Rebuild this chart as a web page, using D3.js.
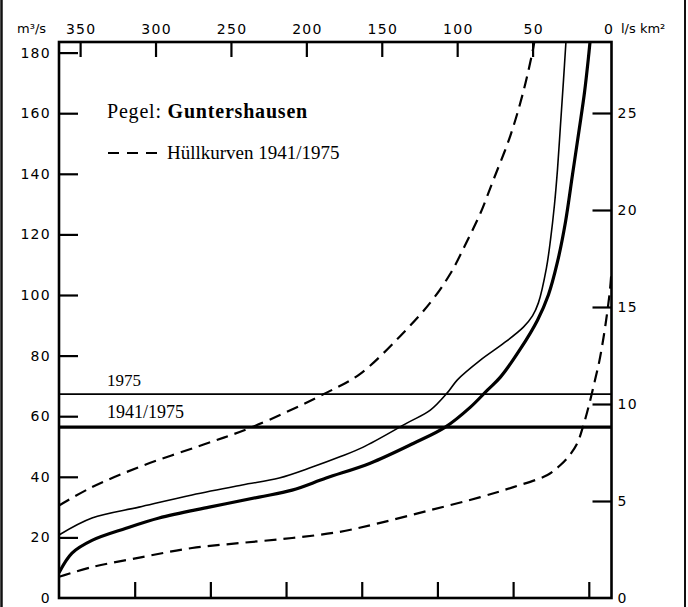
<!DOCTYPE html>
<html>
<head>
<meta charset="utf-8">
<script src="https://cdn.jsdelivr.net/npm/d3@7"></script>
<style>
  html, body { margin: 0; padding: 0; background: #fff; }
  svg { display: block; }
</style>
</head>
<body>
<svg id="chart" width="688" height="607"></svg>
<script>
// ---------------- DATA ----------------
// x: duration in days (0..365), y: discharge in m³/s
const maxEnvDays = [0, 21.8, 54.9, 94.6, 127.6, 176.5, 199, 225.5, 245.3, 258.5, 269.8, 278.4, 287, 298.2, 306.8, 312.7, 314];
const maxEnvQ    = [30.5, 36.6, 43.6, 50.5, 56.4, 67.7, 74, 86.5, 97.5, 107, 118, 127, 138, 152.6, 167.2, 180, 183.5];

const curve1975Days = [0, 21.8, 52.9, 87.9, 121, 145.5, 167.3, 185.1, 201, 230.1, 245.3, 256.5, 263.2, 278.4, 293.6, 306.8, 312.8, 316.7, 322, 324.7, 327.3, 329.3, 331.3, 333.3, 334.9];
const curve1975Q    = [20.8, 26.4, 30, 34, 37.3, 39.6, 43.2, 46.5, 49.8, 57.8, 62, 67.7, 72, 78.5, 84, 89.4, 93.1, 97.4, 108.9, 118.2, 129.7, 141.3, 156.1, 171, 183.5];

const curveMeanDays = [0, 8.6, 21.8, 44.3, 66.1, 99.2, 132.2, 154, 176.5, 205.6, 234, 255.2, 271.8, 283, 291.6, 304.8, 316.1, 323.3, 329.3, 334.6, 339.2, 343.8, 347.2, 349.8, 350.8];
const curveMeanQ    = [8.3, 14.8, 19, 23, 26.4, 30, 33.3, 35.6, 39.6, 44.5, 51, 56.4, 63, 68.6, 72.9, 82.2, 91.7, 100, 110.9, 124.1, 139.6, 155.1, 167, 178.5, 183.5];

const minEnvDays = [0, 21.8, 54.9, 87.9, 121, 154, 185.1, 212.2, 245.3, 278.4, 300.2, 322.7, 331.3, 337.9, 342.5, 346.5, 350.5, 353.8, 357.1, 361, 364, 365];
const minEnvQ    = [7, 10.2, 13.5, 16.5, 18.2, 19.8, 21.8, 24.8, 29, 33.3, 36.6, 40.6, 43.9, 47.5, 51.2, 57.1, 64.4, 71.3, 78.5, 90.1, 101.7, 108];

// horizontal reference lines (m³/s)
const refLabels = ["1975", "1941/1975"];
const refValues = [67.3, 56.4];

// axis ticks
const leftTicks   = [0, 20, 40, 60, 80, 100, 120, 140, 160, 180];
const rightTicks  = [0, 5, 10, 15, 20, 25];
const topTicks    = [350, 300, 250, 200, 150, 100, 50, 0];
const bottomTicks = [50, 100, 150, 200, 250, 300, 350];

const titleRegular = "Pegel: ";
const titleBold = "Guntershausen";
const legendText = "Hüllkurven 1941/1975";
const leftUnit = "m³/s";
const rightUnit = "l/s km²";

// ---------------- DRAW ----------------
const svg = d3.select("#chart");
const L = 59, R = 611.5, T = 42, B = 598;

const x = d3.scaleLinear().domain([0, 365]).range([L, R]);
const xTop = d3.scaleLinear().domain([364, 0]).range([L, 608]);
const y = d3.scaleLinear().domain([0, 183.5]).range([B, T]);
const yRight = d3.scaleLinear().domain([0, 25]).range([B, 113]);

const sansFont = "'DejaVu Sans', 'Liberation Sans', Arial, sans-serif";
const serifFont = "'Liberation Serif', 'Times New Roman', serif";

// scan borders
svg.append("line").attr("x1", 1.5).attr("x2", 1.5).attr("y1", 0).attr("y2", 607)
  .attr("stroke", "#111").attr("stroke-width", 2.5);
svg.append("line").attr("x1", 685).attr("x2", 685).attr("y1", 0).attr("y2", 607)
  .attr("stroke", "#111").attr("stroke-width", 2);

// axes (ticks inside)
const axisStyle = g => {
  g.select(".domain").remove();
  g.selectAll(".tick line").attr("stroke", "#000").attr("stroke-width", 2.2);
  g.selectAll(".tick text").attr("fill", "#000").style("font-family", sansFont)
    .style("font-size", "14px").style("letter-spacing", "1.3px");
};

svg.append("g").attr("transform", `translate(${L},0)`)
  .call(d3.axisRight(y).tickValues(leftTicks).tickSize(19).tickFormat(() => ""))
  .call(axisStyle)
  .selectAll(".tick").filter(d => d === 0).select("line").remove();
svg.append("g").attr("transform", `translate(${L - 8},0)`)
  .call(d3.axisLeft(y).tickValues(leftTicks).tickSize(0).tickPadding(0).tickFormat(d3.format("d")))
  .call(axisStyle);

svg.append("g").attr("transform", `translate(${R},0)`)
  .call(d3.axisLeft(yRight).tickValues(rightTicks).tickSize(19).tickFormat(() => ""))
  .call(axisStyle)
  .selectAll(".tick").filter(d => d === 0).select("line").remove();
svg.append("g").attr("transform", `translate(${R + 6},0)`)
  .call(d3.axisRight(yRight).tickValues(rightTicks).tickSize(0).tickPadding(0).tickFormat(d3.format("d")))
  .call(axisStyle);

svg.append("g").attr("transform", `translate(0,${T})`)
  .call(d3.axisBottom(xTop).tickValues(topTicks.filter(d => d !== 0)).tickSize(15).tickFormat(() => ""))
  .call(axisStyle);
const topLab = svg.append("g").attr("transform", `translate(0,${T - 8})`)
  .call(d3.axisTop(xTop).tickValues(topTicks).tickSize(0).tickPadding(0).tickFormat(d3.format("d")))
  .call(axisStyle);
topLab.selectAll(".tick text").attr("dx", "0.6px");

svg.append("g").attr("transform", `translate(0,${B})`)
  .call(d3.axisTop(x).tickValues(bottomTicks).tickSize(16).tickFormat(() => ""))
  .call(axisStyle);

// unit labels
svg.append("text").attr("x", 17).attr("y", 33).text(leftUnit)
  .style("font-family", sansFont).style("font-size", "13px");
svg.append("text").attr("x", 621).attr("y", 33).text(rightUnit)
  .style("font-family", sansFont).style("font-size", "13px");

// frame
svg.append("rect").attr("x", L).attr("y", T).attr("width", R - L).attr("height", B - T)
  .attr("fill", "none").attr("stroke", "#000").attr("stroke-width", 2.6);

// reference lines
refValues.forEach((v, i) => {
  svg.append("line").attr("x1", L).attr("x2", R).attr("y1", y(v)).attr("y2", y(v))
    .attr("stroke", "#000").attr("stroke-width", i === 0 ? 1.6 : 3.2);
});
svg.append("text").attr("x", 107).attr("y", y(refValues[0]) - 8).text(refLabels[0])
  .style("font-family", serifFont).style("font-size", "17px");
svg.append("text").attr("x", 107).attr("y", y(refValues[1]) - 9).text(refLabels[1])
  .style("font-family", serifFont).style("font-size", "18px");

// curves
const line = d3.line().x(d => x(d[0])).y(d => y(d[1])).curve(d3.curveCatmullRom.alpha(0.5));
const zip = (a, b) => a.map((v, i) => [v, b[i]]);

svg.append("clipPath").attr("id", "plotclip").append("rect")
  .attr("x", L).attr("y", T).attr("width", R - L).attr("height", B - T);
const plot = svg.append("g").attr("clip-path", "url(#plotclip)");

plot.append("path").datum(zip(maxEnvDays, maxEnvQ)).attr("d", line)
  .attr("fill", "none").attr("stroke", "#000").attr("stroke-width", 2.2).attr("stroke-dasharray", "12,7");
plot.append("path").datum(zip(minEnvDays, minEnvQ)).attr("d", line)
  .attr("fill", "none").attr("stroke", "#000").attr("stroke-width", 2.2).attr("stroke-dasharray", "12,7");
plot.append("path").datum(zip(curve1975Days, curve1975Q)).attr("d", line)
  .attr("fill", "none").attr("stroke", "#000").attr("stroke-width", 1.6);
plot.append("path").datum(zip(curveMeanDays, curveMeanQ)).attr("d", line)
  .attr("fill", "none").attr("stroke", "#000").attr("stroke-width", 3.2);

// title
const title = svg.append("text").attr("x", 107).attr("y", 118)
  .style("font-family", serifFont).style("font-size", "20px").style("letter-spacing", "0.8px");
title.append("tspan").text(titleRegular);
title.append("tspan").attr("font-weight", "bold").text(titleBold);

// legend
svg.append("line").attr("x1", 108).attr("x2", 158).attr("y1", 153).attr("y2", 153)
  .attr("stroke", "#000").attr("stroke-width", 1.8).attr("stroke-dasharray", "11,8");
svg.append("text").attr("x", 167).attr("y", 159).text(legendText)
  .style("font-family", serifFont).style("font-size", "19px");
</script>
</body>
</html>
